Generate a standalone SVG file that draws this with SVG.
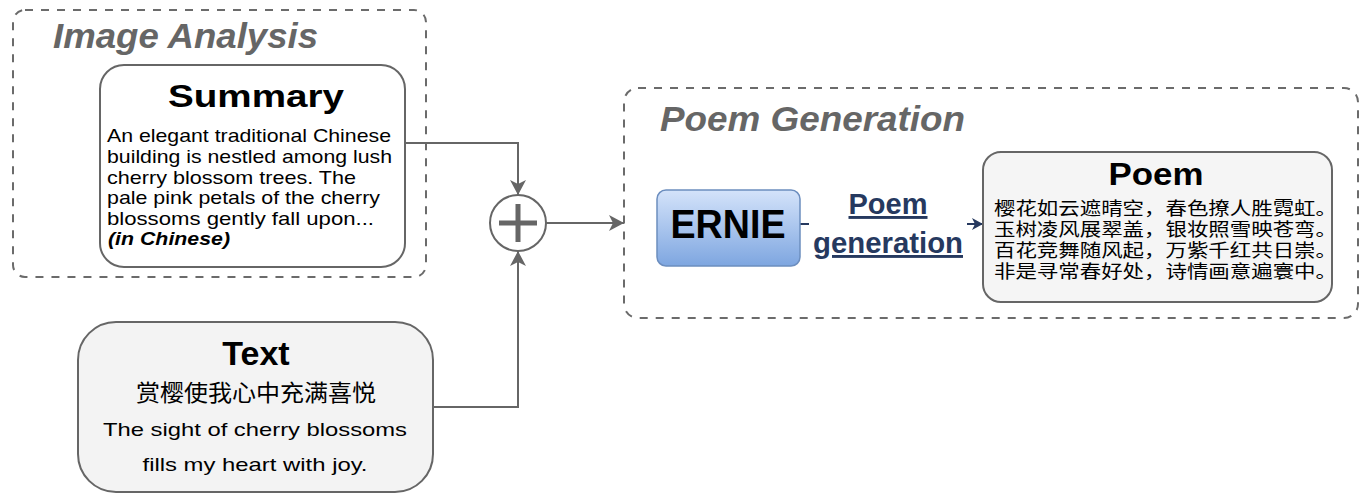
<svg xmlns="http://www.w3.org/2000/svg" width="1361" height="494" viewBox="0 0 1361 494">
<style>
.grp{fill:none;stroke:#6b6b6b;stroke-width:2;stroke-dasharray:8 8}
.gtitle{font-family:"Liberation Sans",Arial,Helvetica,sans-serif;font-weight:bold;font-style:italic;font-size:35px;fill:#666}
.box{stroke:#666;stroke-width:2}
.ttl{font-family:"Liberation Sans",Arial,Helvetica,sans-serif;font-weight:bold;fill:#000}
.body{font-family:"Liberation Sans",Arial,Helvetica,sans-serif;font-size:19px;fill:#000}
.cjk{font-family:"Liberation Sans","Noto Sans CJK SC",sans-serif;fill:#000}
.conn{fill:none;stroke:#666;stroke-width:2}
.lbl{font-family:"Liberation Sans",Arial,Helvetica,sans-serif;font-weight:bold;font-size:29px;fill:#26395f;text-decoration:underline}
</style>
<defs>
<marker id="arr" viewBox="-16 -9 17 18" refX="0" refY="0" markerWidth="17" markerHeight="18" markerUnits="userSpaceOnUse" orient="auto">
<path d="M0,0 L-15,-8 L-11,0 L-15,8 Z" fill="#666"/>
</marker>
<marker id="arrb" viewBox="-12 -7 13 14" refX="0" refY="0" markerWidth="13" markerHeight="14" markerUnits="userSpaceOnUse" orient="auto">
<path d="M0,0 L-11,-6 L-8,0 L-11,6 Z" fill="#26395f"/>
</marker>
<linearGradient id="ernieGrad" x1="0" y1="0" x2="0" y2="1">
<stop offset="0" stop-color="#d4e3fa"/>
<stop offset="1" stop-color="#7ea6e0"/>
</linearGradient>
</defs>
<rect width="1361" height="494" fill="#fff"/>

<g id="image-analysis">
<rect class="grp" x="13" y="10" width="413" height="267" rx="12"/>
<text class="gtitle" x="53" y="48" textLength="265" lengthAdjust="spacingAndGlyphs">Image Analysis</text>
</g>

<g id="poem-generation-group">
<rect class="grp" x="624" y="88" width="734" height="230" rx="14"/>
<text class="gtitle" x="660" y="131" textLength="305" lengthAdjust="spacingAndGlyphs">Poem Generation</text>
</g>

<g id="connectors">
<path class="conn" d="M405,143 H518 V195" marker-end="url(#arr)"/>
<path class="conn" d="M433,407 H518 V251" marker-end="url(#arr)"/>
<path class="conn" d="M546,223 H624" marker-end="url(#arr)"/>
<g id="edge-poem-generation">
<path d="M800,224 H983" fill="none" stroke="#26395f" stroke-width="2" marker-end="url(#arrb)"/>
<rect x="809" y="188" width="158" height="76" fill="#fff"/>
<text class="lbl" x="888" y="214" text-anchor="middle" textLength="79" lengthAdjust="spacingAndGlyphs">Poem</text>
<text class="lbl" x="888" y="253" text-anchor="middle" textLength="150" lengthAdjust="spacingAndGlyphs">generation</text>
</g>
</g>

<g id="summary">
<rect class="box" x="100" y="65" width="305" height="202" rx="24" fill="#fff"/>
<text class="ttl" x="168" y="107" font-size="32" textLength="176" lengthAdjust="spacingAndGlyphs">Summary</text>
<text class="body" x="107" y="142" textLength="284" lengthAdjust="spacingAndGlyphs">An elegant traditional Chinese</text>
<text class="body" x="107" y="163" textLength="285" lengthAdjust="spacingAndGlyphs">building is nestled among lush</text>
<text class="body" x="107" y="184" textLength="249" lengthAdjust="spacingAndGlyphs">cherry blossom trees. The</text>
<text class="body" x="107" y="204" textLength="273" lengthAdjust="spacingAndGlyphs">pale pink petals of the cherry</text>
<text class="body" x="107" y="225" textLength="267" lengthAdjust="spacingAndGlyphs">blossoms gently fall upon...</text>
<text class="body" x="108" y="245" font-weight="bold" font-style="italic" textLength="122" lengthAdjust="spacingAndGlyphs">(in Chinese)</text>
</g>

<g id="text-node">
<rect class="box" x="78" y="322" width="355" height="170" rx="38" fill="#f3f3f3"/>
<text class="ttl" x="256" y="365" font-size="34" text-anchor="middle">Text</text>
<text class="cjk" x="256" y="401" font-size="23" text-anchor="middle" textLength="240" lengthAdjust="spacingAndGlyphs">赏樱使我心中充满喜悦</text>
<text class="body" x="255" y="436" font-size="24" text-anchor="middle" textLength="304" lengthAdjust="spacingAndGlyphs">The sight of cherry blossoms</text>
<text class="body" x="255" y="471" font-size="24" text-anchor="middle" textLength="225" lengthAdjust="spacingAndGlyphs">fills my heart with joy.</text>
</g>

<g id="sum-op">
<circle cx="518" cy="223" r="28" fill="#fff" stroke="#666" stroke-width="2"/>
<path d="M499,223 H537 M518,204 V242" stroke="#666" stroke-width="5" fill="none"/>
</g>

<g id="ernie">
<rect x="657" y="190" width="143" height="76" rx="9" fill="url(#ernieGrad)" stroke="#6c8ebf" stroke-width="1.5"/>
<text class="ttl" x="728" y="238" font-size="40" text-anchor="middle" textLength="115" lengthAdjust="spacingAndGlyphs">ERNIE</text>
</g>

<g id="poem">
<rect class="box" x="983" y="152" width="349" height="150" rx="18" fill="#f5f5f5"/>
<text class="ttl" x="1156" y="185" font-size="31" text-anchor="middle" textLength="95" lengthAdjust="spacingAndGlyphs">Poem</text>
<text class="cjk" x="994" y="215" font-size="18" textLength="343" lengthAdjust="spacingAndGlyphs">樱花如云遮晴空，春色撩人胜霓虹。</text>
<text class="cjk" x="994" y="236" font-size="18" textLength="343" lengthAdjust="spacingAndGlyphs">玉树凌风展翠盖，银妆照雪映苍弯。</text>
<text class="cjk" x="994" y="257" font-size="18" textLength="343" lengthAdjust="spacingAndGlyphs">百花竞舞随风起，万紫千红共日崇。</text>
<text class="cjk" x="994" y="278" font-size="18" textLength="343" lengthAdjust="spacingAndGlyphs">非是寻常春好处，诗情画意遍寰中。</text>
</g>
</svg>
